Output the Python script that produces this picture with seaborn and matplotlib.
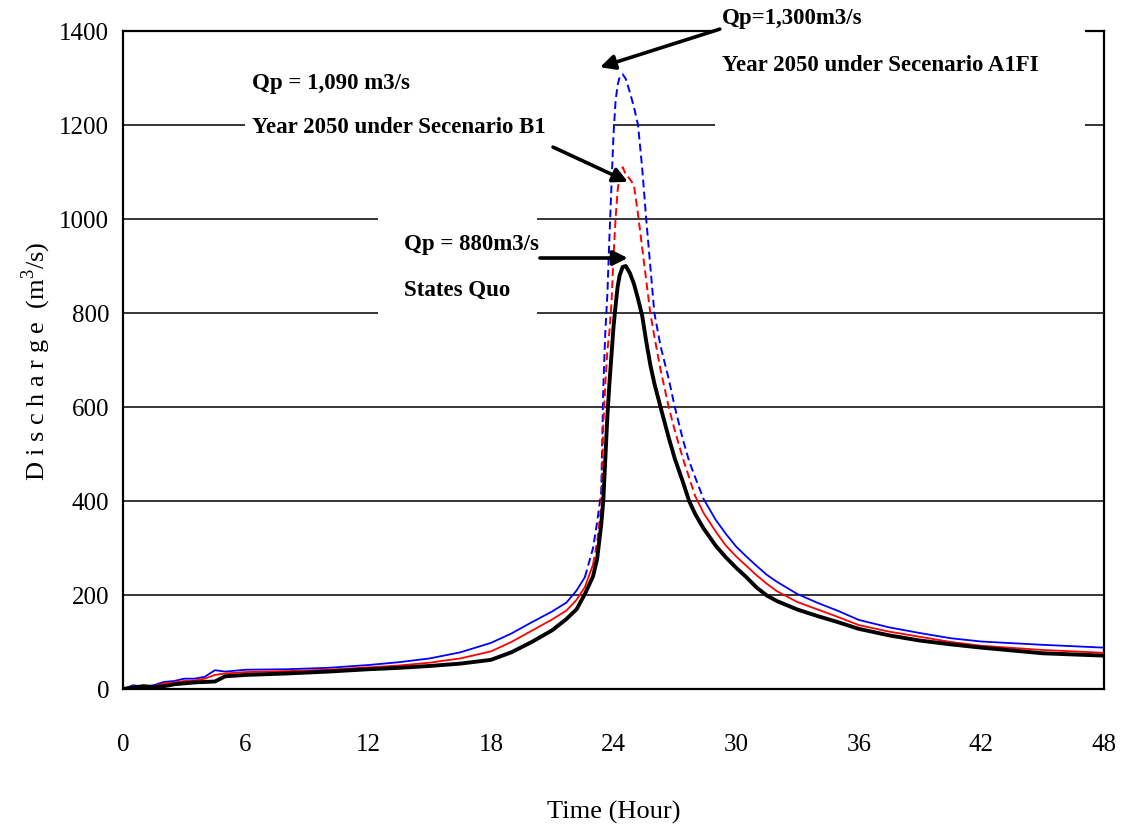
import numpy as np
import pandas as pd
import matplotlib
matplotlib.use("Agg")
import matplotlib.pyplot as plt
from matplotlib.patches import Rectangle
import seaborn as sns

# ---------------- data ----------------
time_h = [0, 0.5, 1, 1.5, 2, 2.5, 3, 3.5, 4, 4.5, 5, 6, 8, 10, 12, 13.5, 15, 16.5, 18, 19, 20,
          21, 21.7, 22.2, 22.6, 23.0, 23.2, 23.4, 23.5, 23.6, 23.7, 23.8, 23.9, 24.0, 24.1, 24.2,
          24.3, 24.45, 24.6, 24.8, 25.0, 25.2, 25.4, 25.6, 25.8, 26.0, 26.3, 26.7, 27.0, 27.4,
          27.7, 28.0, 28.4, 29.0, 29.5, 30.0, 30.5, 31.0, 31.5, 32.0, 33.0, 34.0, 35.0, 36.0,
          37.5, 39.0, 40.5, 42.0, 45.0, 48.0]

status_quo = [0, 3, 6, 4, 6, 10, 12, 14, 15, 16, 27, 30, 33, 37, 42, 45, 49, 54, 62, 78, 100,
              125, 149, 170, 202, 240, 277, 350, 400, 490, 580, 650, 710, 770, 815, 855,
              880, 898, 900, 885, 862, 830, 795, 740, 690, 650, 600, 535, 490, 440,
              400, 372, 342, 305, 280, 258, 238, 216, 199, 187, 169, 155, 142, 128,
              114, 103, 95, 88, 76, 71]

b1_2050 = [0, 5, 7, 6, 12, 14, 17, 18, 22, 30, 33, 36, 38, 41, 46, 50, 56, 65, 80, 100, 124,
           148, 167, 190, 217, 265, 313, 390, 560, 650, 720, 760, 820, 920, 1000, 1060,
           1095, 1110, 1095, 1085, 1072, 1010, 940, 870, 800, 750, 680, 600, 550, 490,
           450, 410, 375, 335, 305, 282, 262, 242, 224, 208, 185, 169, 153, 136,
           122, 111, 100, 92, 83, 77]

a1fi_2050 = [0, 8, 5, 8, 15, 17, 22, 22, 26, 40, 37, 41, 42, 45, 51, 57, 65, 78, 98, 118, 142,
             165, 184, 210, 238, 300, 355, 420, 640, 760, 840, 960, 1070, 1180, 1250, 1285,
             1302, 1308, 1298, 1270, 1238, 1200, 1110, 1000, 900, 800, 730, 660, 600, 530,
             485, 450, 405, 360, 330, 303, 282, 262, 243, 228, 202, 183, 166, 147,
             131, 119, 108, 101, 94, 88]

x_ticks = [0, 6, 12, 18, 24, 30, 36, 42, 48]
y_ticks = [0, 200, 400, 600, 800, 1000, 1200, 1400]

# ---------------- style ----------------
sns.set_style("white")
plt.rcParams['font.family'] = ['Liberation Serif', 'DejaVu Serif']
plt.rcParams['mathtext.fontset'] = 'custom'
plt.rcParams['mathtext.rm'] = 'Liberation Serif'
plt.rcParams['text.color'] = 'black'
plt.rcParams['axes.labelcolor'] = 'black'
plt.rcParams['xtick.color'] = 'black'
plt.rcParams['ytick.color'] = 'black'

fig = plt.figure(figsize=(11.31, 8.29), dpi=100)
ax = fig.add_axes([123 / 1131, 1 - 690 / 829, (1104 - 123) / 1131, (690 - 32) / 829])

df = pd.DataFrame({"t": time_h, "sq": status_quo, "b1": b1_2050, "a1": a1fi_2050})

dash = (0, (4, 2.2))
# blue (A1FI): solid in tails, dashed near peak
bl_dash = (df.t >= 22.6) & (df.t <= 28.4)
sns.lineplot(data=df[df.t <= 22.6], x="t", y="a1", color="#0000ff", lw=1.3, ax=ax, zorder=4)
sns.lineplot(data=df[bl_dash], x="t", y="a1", color="#0000ff", lw=1.4, ax=ax, zorder=4,
             linestyle=dash)
sns.lineplot(data=df[df.t >= 28.4], x="t", y="a1", color="#0000ff", lw=1.3, ax=ax, zorder=4)

# red (B1)
rd_dash = (df.t >= 23.0) & (df.t <= 28.0)
sns.lineplot(data=df[df.t <= 23.0], x="t", y="b1", color="#ff0000", lw=1.3, ax=ax, zorder=4)
sns.lineplot(data=df[rd_dash], x="t", y="b1", color="#ff0000", lw=1.4, ax=ax, zorder=4,
             linestyle=dash)
sns.lineplot(data=df[df.t >= 28.0], x="t", y="b1", color="#ff0000", lw=1.3, ax=ax, zorder=4)

# black (status quo)
sns.lineplot(data=df, x="t", y="sq", color="black", lw=2.8, ax=ax, zorder=4.5)

ax.set_xlim(0, 48)
ax.set_ylim(0, 1400)
ax.set_xticks(x_ticks)
ax.set_yticks(y_ticks)
ax.set_xticklabels([str(v) for v in x_ticks], fontsize=18)
ax.set_yticklabels([str(v) for v in y_ticks], fontsize=18)
ax.tick_params(axis="x", direction="in", length=8, width=1.3, pad=32, colors="black")
ax.tick_params(axis="y", length=0, pad=10, colors="black")
ax.yaxis.grid(True, color="black", lw=1.1)
ax.xaxis.grid(False)
for s in ax.spines.values():
    s.set_color("black")
    s.set_linewidth(1.6)

ax.set_xlabel("Time (Hour)", fontsize=19, labelpad=32)
ax.set_ylabel("D i s c h a r g e  (m$^{3}$/s)", fontsize=19)
ax.yaxis.set_label_coords(-0.071, 0.5)

# white boxes behind annotation text (hide gridlines like in the original)
for (x0, x1, y0, y1) in [(28.96, 47.06, 1170, 1465), (5.97, 23.97, 1149, 1340), (12.48, 20.25, 766, 1032)]:
    ax.add_patch(Rectangle((x0, y0), x1 - x0, y1 - y0, facecolor="white", edgecolor="none",
                           zorder=3, clip_on=False))

tkw = dict(fontsize=16.5, fontweight="bold", ha="left", va="center", zorder=6, clip_on=False)
ax.text(29.3, 1428, "Qp=1,300m3/s", **tkw)
ax.text(29.3, 1328, "Year 2050 under Secenario A1FI", **tkw)
ax.text(6.31, 1290, "Qp = 1,090 m3/s", **tkw)
ax.text(6.31, 1196, "Year 2050 under Secenario B1", **tkw)
ax.text(13.75, 947, "Qp = 880m3/s", **tkw)
ax.text(13.75, 851, "States Quo", **tkw)

akw = dict(arrowstyle="-|>", color="black", lw=2.6, mutation_scale=22, shrinkA=0, shrinkB=0)
ax.annotate("", xy=(23.34, 1323), xytext=(29.2, 1404), arrowprops=akw, zorder=6,
            annotation_clip=False)
ax.annotate("", xy=(24.71, 1079), xytext=(21.04, 1153), arrowprops=akw, zorder=6)
ax.annotate("", xy=(24.7, 917), xytext=(20.4, 917), arrowprops=akw, zorder=6)

fig.savefig("out.png", dpi=100, facecolor="white")
